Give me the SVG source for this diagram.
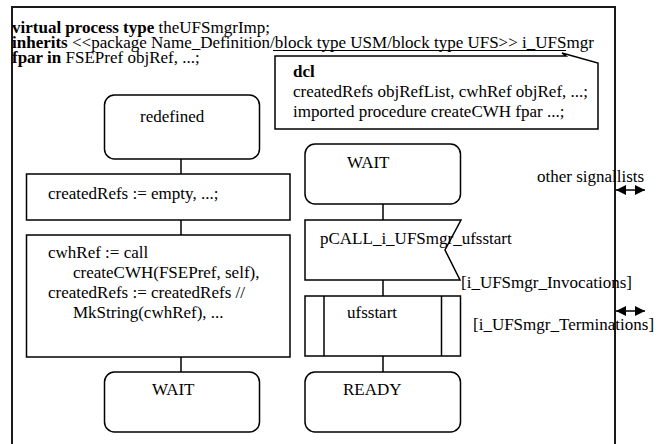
<svg xmlns="http://www.w3.org/2000/svg" width="668" height="444" viewBox="0 0 668 444">
<style>
text{font-family:"Liberation Serif","Times New Roman",serif;font-size:17px;fill:#000}
.b{font-weight:bold}
.s{fill:#fff;stroke:#000;stroke-width:1.5}
.c{stroke:#000;stroke-width:1.5;fill:none}
.f{fill:none;stroke:#1a1a1a;stroke-width:2}
</style>
<defs>
<marker id="ah" viewBox="0 0 10 10" refX="10" refY="5" markerWidth="10" markerHeight="10" markerUnits="userSpaceOnUse" orient="auto-start-reverse">
<path d="M0,0 L10,5 L0,10 z" fill="#000"/>
</marker>
</defs>
<rect width="668" height="444" fill="#fff"/>
<g id="frame">
<path class="f" d="M12,446 V7 H615 V446"/>
<text x="12" y="33"><tspan class="b">virtual process type</tspan> theUFSmgrImp;</text>
<text x="12" y="48"><tspan class="b">inherits</tspan> &lt;&lt;package Name_Definition/block type USM/block type UFS&gt;&gt; i_UFSmgr</text>
<text x="12" y="63"><tspan class="b">fpar in</tspan> FSEPref objRef, ...;</text>
<line x1="273" y1="50.5" x2="566" y2="50.5" stroke="#000" stroke-width="1"/>
</g>
<g id="dcl">
<path class="s" d="M275,56 H566 L562,53 L598,63 V129 H275 Z"/>
<text x="293" y="77" class="b">dcl</text>
<text x="293" y="97">createdRefs objRefList, cwhRef objRef, ...;</text>
<text x="293" y="117">imported procedure createCWH fpar ...;</text>
</g>
<g id="connectors">
<line class="c" x1="181" y1="159" x2="181" y2="174"/>
<line class="c" x1="181" y1="220" x2="181" y2="235"/>
<line class="c" x1="181" y1="357" x2="181" y2="372"/>
<line class="c" x1="383" y1="204" x2="383" y2="220"/>
<line class="c" x1="383" y1="280" x2="383" y2="296"/>
<line class="c" x1="383" y1="356" x2="383" y2="372"/>
<line class="c" x1="616" y1="190" x2="645" y2="190" marker-start="url(#ah)" marker-end="url(#ah)"/>
<line class="c" x1="616" y1="311" x2="645" y2="311" marker-start="url(#ah)" marker-end="url(#ah)"/>
</g>
<g id="redefined">
<rect class="s" x="104.5" y="95" width="155" height="64" rx="10"/>
<text x="140" y="122">redefined</text>
</g>
<g id="task1">
<rect class="s" x="26.5" y="174" width="263.5" height="46"/>
<text x="48" y="199">createdRefs := empty, ...;</text>
</g>
<g id="task2">
<rect class="s" x="26.5" y="235" width="263.5" height="122"/>
<text x="48" y="258">cwhRef := call</text>
<text x="73" y="278">createCWH(FSEPref, self),</text>
<text x="48" y="298">createdRefs := createdRefs //</text>
<text x="73" y="318">MkString(cwhRef), ...</text>
</g>
<g id="wait1">
<rect class="s" x="104.5" y="372" width="155" height="60" rx="10"/>
<text x="152" y="395">WAIT</text>
</g>
<g id="wait2">
<rect class="s" x="305" y="144" width="155.5" height="60" rx="10"/>
<text x="347" y="168">WAIT</text>
</g>
<g id="input">
<path class="s" d="M305,220 H461 L445,250 L460,280 H305 Z"/>
<text x="320" y="244">pCALL_i_UFSmgr_ufsstart</text>
</g>
<g id="proccall">
<rect class="s" x="305" y="296" width="155.5" height="60"/>
<line class="c" x1="324" y1="296" x2="324" y2="356"/>
<line class="c" x1="441.5" y1="296" x2="441.5" y2="356"/>
<text x="347" y="318">ufsstart</text>
</g>
<g id="ready">
<rect class="s" x="305" y="372" width="155.5" height="60" rx="10"/>
<text x="343" y="395">READY</text>
</g>
<g id="labels">
<text x="537" y="182">other signallists</text>
<text x="461" y="288">[i_UFSmgr_Invocations]</text>
<text x="473" y="330">[i_UFSmgr_Terminations]</text>
</g>
</svg>
